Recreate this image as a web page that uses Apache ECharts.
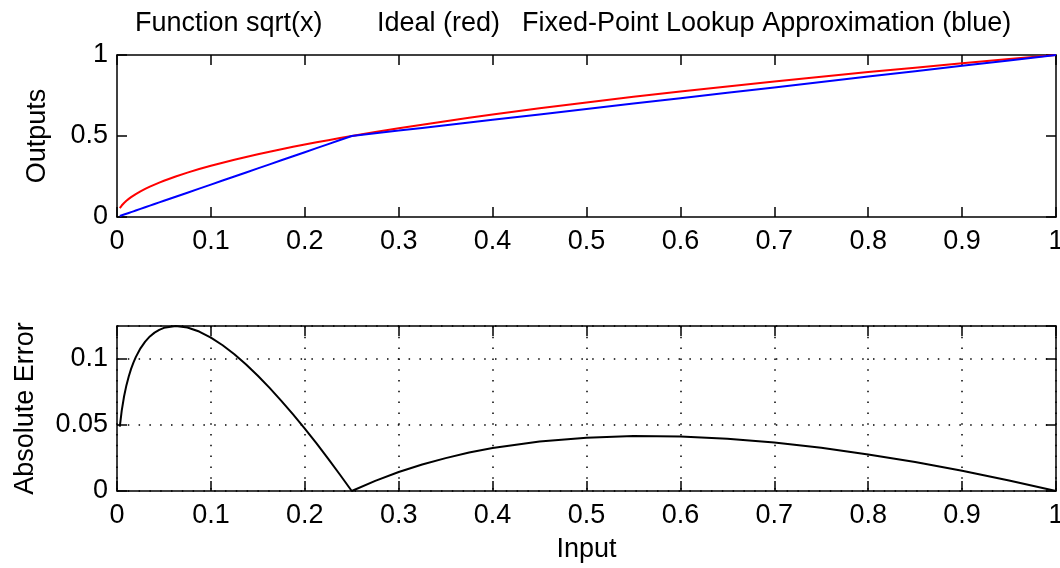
<!DOCTYPE html>
<html>
<head>
<meta charset="utf-8">
<script src="https://cdn.jsdelivr.net/npm/echarts@6/dist/echarts.min.js"></script>
<style>
html,body{margin:0;padding:0;background:#fff;}
#chart{width:1060px;height:568px;}
</style>
</head>
<body>
<div id="chart"></div>
<script>
// Input samples (x)
const inputs = [0.003, 0.005, 0.0075, 0.01, 0.0125, 0.015, 0.0175, 0.02, 0.025, 0.03, 0.035, 0.04, 0.045, 0.05, 0.0625, 0.075, 0.0875, 0.1, 0.1125, 0.125, 0.1375, 0.15, 0.1625, 0.175, 0.1875, 0.2, 0.2125, 0.225, 0.2375, 0.25, 0.275, 0.3, 0.325, 0.35, 0.375, 0.4, 0.45, 0.5, 0.55, 0.6, 0.65, 0.7, 0.75, 0.8, 0.85, 0.9, 0.95, 1.0];
// Ideal sqrt output (red)
const idealOut = [0.0548, 0.0707, 0.0866, 0.1, 0.1118, 0.1225, 0.1323, 0.1414, 0.1581, 0.1732, 0.1871, 0.2, 0.2121, 0.2236, 0.25, 0.2739, 0.2958, 0.3162, 0.3354, 0.3536, 0.3708, 0.3873, 0.4031, 0.4183, 0.433, 0.4472, 0.461, 0.4743, 0.4873, 0.5, 0.5244, 0.5477, 0.5701, 0.5916, 0.6124, 0.6325, 0.6708, 0.7071, 0.7416, 0.7746, 0.8062, 0.8367, 0.866, 0.8944, 0.922, 0.9487, 0.9747, 1.0];
// Fixed-point lookup approximation (blue)
const approxOut = [0.006, 0.01, 0.015, 0.02, 0.025, 0.03, 0.035, 0.04, 0.05, 0.06, 0.07, 0.08, 0.09, 0.1, 0.125, 0.15, 0.175, 0.2, 0.225, 0.25, 0.275, 0.3, 0.325, 0.35, 0.375, 0.4, 0.425, 0.45, 0.475, 0.5, 0.5167, 0.5333, 0.55, 0.5667, 0.5833, 0.6, 0.6333, 0.6667, 0.7, 0.7333, 0.7667, 0.8, 0.8333, 0.8667, 0.9, 0.9333, 0.9667, 1.0];
// Absolute error (black)
const absError = [0.0488, 0.0607, 0.0716, 0.08, 0.0868, 0.0925, 0.0973, 0.1014, 0.1081, 0.1132, 0.1171, 0.12, 0.1221, 0.1236, 0.125, 0.1239, 0.1208, 0.1162, 0.1104, 0.1036, 0.0958, 0.0873, 0.0781, 0.0683, 0.058, 0.0472, 0.036, 0.0243, 0.0123, 0.0, 0.0077, 0.0144, 0.0201, 0.0249, 0.0291, 0.0325, 0.0375, 0.0404, 0.0416, 0.0413, 0.0395, 0.0367, 0.0327, 0.0277, 0.022, 0.0154, 0.008, 0.0];
// Title pieces
const titleParts = ['Function sqrt(x)', 'Ideal (red)', 'Fixed-Point Lookup Approximation (blue)'];

const FONT = "'Liberation Sans', Arial, sans-serif";
const FS = 27;
const zip = (xs, ys) => xs.map((x, i) => [x, ys[i]]);

const axisLine = {show: true, onZero: false, lineStyle: {color: '#000', width: 1.5}};
const tickIn = {show: true, inside: true, length: 10, lineStyle: {color: '#000', width: 1.5}};
const labelStyle = {color: '#000', fontFamily: FONT, fontSize: FS};
const dotted = {show: true, lineStyle: {color: '#000', width: 1.5, type: [1.5, 9.3]}};

function xAx(grid, pos, labels, split, name) {
  return {
    type: 'value', gridIndex: grid, position: pos, min: 0, max: 1, interval: 0.1,
    axisLine: axisLine, axisTick: tickIn,
    axisLabel: labels ? Object.assign({show: true, margin: 11}, labelStyle) : {show: false},
    splitLine: split ? dotted : {show: false},
    name: name || '', nameLocation: 'middle', nameGap: 45,
    nameTextStyle: labelStyle
  };
}
function yAx(grid, pos, max, interval, labels, split, name, gap) {
  return {
    type: 'value', gridIndex: grid, position: pos, min: 0, max: max, interval: interval,
    axisLine: axisLine, axisTick: tickIn,
    axisLabel: labels ? Object.assign({show: true, margin: 9, showMaxLabel: max === 1}, labelStyle) : {show: false},
    splitLine: split ? dotted : {show: false},
    name: name || '', nameLocation: 'middle', nameGap: gap || 0,
    nameTextStyle: labelStyle
  };
}

const chart = echarts.init(document.getElementById('chart'), null, {renderer: 'canvas'});
const tStyle = {color: '#000', fontFamily: FONT, fontSize: FS, fontWeight: 'normal'};
chart.setOption({
  backgroundColor: '#fff',
  animation: false,
  title: [
    {text: titleParts[0], left: 135, top: 10, padding: 0, textStyle: tStyle},
    {text: titleParts[1], left: 377, top: 10, padding: 0, textStyle: tStyle},
    {text: titleParts[2], left: 522, top: 10, padding: 0, textStyle: tStyle}
  ],
  grid: [
    {left: 117, top: 55, width: 939, height: 162, outerBoundsMode: 'none', containLabel: false},
    {left: 117, top: 326, width: 939, height: 165, outerBoundsMode: 'none', containLabel: false}
  ],
  xAxis: [
    xAx(0, 'bottom', true, false),
    xAx(0, 'top', false, false),
    xAx(1, 'bottom', true, true, 'Input'),
    xAx(1, 'top', false, false)
  ],
  yAxis: [
    yAx(0, 'left', 1, 0.5, true, false, 'Outputs', 66),
    yAx(0, 'right', 1, 0.5, false, false),
    yAx(1, 'left', 0.125, 0.05, true, true, 'Absolute Error', 78),
    yAx(1, 'right', 0.125, 0.05, false, false)
  ],
  series: [
    {type: 'line', xAxisIndex: 0, yAxisIndex: 0, data: zip(inputs, idealOut), showSymbol: false, lineStyle: {color: '#ff0000', width: 2}, z: 3},
    {type: 'line', xAxisIndex: 0, yAxisIndex: 0, data: zip(inputs, approxOut), showSymbol: false, lineStyle: {color: '#0000ff', width: 2}, z: 4},
    {type: 'line', xAxisIndex: 2, yAxisIndex: 2, data: zip(inputs, absError), showSymbol: false, lineStyle: {color: '#000', width: 2}, z: 3}
  ]
});
</script>
</body>
</html>
